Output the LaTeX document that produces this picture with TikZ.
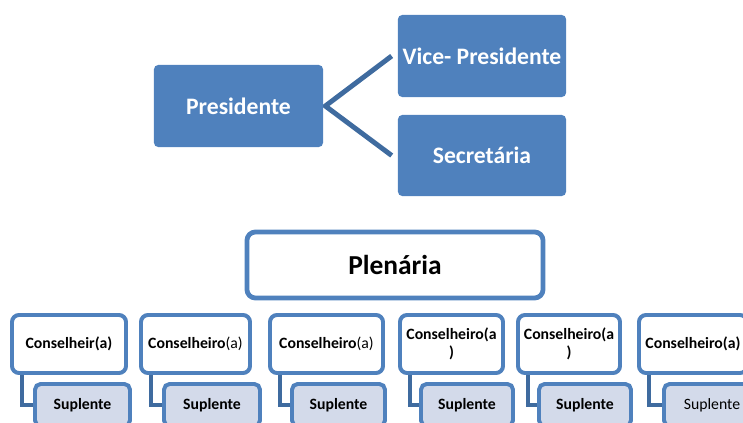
\documentclass[tikz,border=0pt]{standalone}
\usepackage{fontspec}
\setmainfont{Carlito}
\usepackage{xcolor}
\usepackage{tikz}
\usetikzlibrary{positioning,calc,backgrounds}
\definecolor{boxblue}{HTML}{4F81BD}
\definecolor{linkblue}{HTML}{3F6B9F}
\definecolor{subfill}{HTML}{D3DAEA}
\tikzstyle{topbox} = [rectangle, rounded corners=3pt, fill=boxblue, text=white, text centered, font=\fontsize{16.8}{20}\selectfont\bfseries]
\tikzstyle{plenbox} = [rectangle, rounded corners=6pt, draw=boxblue, line width=3.4pt, fill=white, text centered, font=\fontsize{19.5}{22}\selectfont\bfseries]
\tikzstyle{cons} = [rectangle, rounded corners=5pt, draw=boxblue, line width=2.8pt, fill=white, align=center, minimum height=1.45cm, font=\fontsize{11.2}{12.5}\selectfont\bfseries]
\tikzstyle{supl} = [rectangle, rounded corners=4pt, draw=boxblue, line width=2.8pt, fill=subfill, text centered, minimum height=1.05cm, font=\fontsize{11.2}{13}\selectfont\bfseries]
\tikzstyle{link} = [line width=3.5pt, draw=linkblue]

\begin{document}
\begin{tikzpicture}[x=0.025cm,y=-0.025cm]
			\clip (0,0) rectangle (743,422);
			% top
			\coordinate (P1) at (238.5,106);
			\coordinate (P2) at (482,56);
			\coordinate (P3) at (482,155.5);
			\coordinate (P4) at (395,265);
			% conselheiros
			\coordinate (C1) at (69,344);
			\coordinate (C2) at (195.5,344);
			\coordinate (C3) at (326.5,344);
			\coordinate (C4) at (451.5,344);
			\coordinate (C5) at (569,344);
			\coordinate (C6) at (693,344);
			% suplentes
			\coordinate (S1) at (82.5,405);
			\coordinate (S2) at (212,405);
			\coordinate (S3) at (338.5,405);
			\coordinate (S4) at (467,405);
			\coordinate (S5) at (585,405);
			\coordinate (S6) at (712,405);
			\begin{scope}[every node/.style={topbox}]
			\node[name=pres, minimum width=4.225cm, minimum height=2.05cm] at (P1) {Presidente};
			\node[name=vice, minimum width=4.2cm, minimum height=2.05cm] at (P2) {Vice- Presidente};
			\node[name=secr, minimum width=4.2cm, minimum height=2.025cm] at (P3) {Secretária};
			\end{scope}
			\node[plenbox, name=plen, minimum width=7.4cm, minimum height=1.65cm] at (P4) {Plenária};
			\begin{scope}[every node/.style={cons}]
			\node[name=c1, minimum width=2.85cm] at (C1) {Conselheir(a)};
			\node[name=c2, minimum width=2.725cm] at (C2) {Conselheiro\textmd{(a)}};
			\node[name=c3, minimum width=2.825cm] at (C3) {Conselheiro\textmd{(a)}};
			\node[name=c4, minimum width=2.575cm] at (C4) {Conselheiro(a\\)};
			\node[name=c5, minimum width=2.55cm] at (C5) {Conselheiro(a\\)};
			\node[name=c6, minimum width=2.7cm] at (C6) {Conselheiro(a)};
			\end{scope}
			\begin{scope}[every node/.style={supl}]
			\node[name=s1, minimum width=2.375cm] at (S1) {Suplente};
			\node[name=s2, minimum width=2.4cm] at (S2) {Suplente};
			\node[name=s3, minimum width=2.325cm] at (S3) {Suplente};
			\node[name=s4, minimum width=2.3cm] at (S4) {Suplente};
			\node[name=s5, minimum width=2.3cm] at (S5) {Suplente};
			\node[name=s6, minimum width=2.4cm, font=\fontsize{11.2}{13}\selectfont] at (S6) {Suplente};
			\end{scope}
			\begin{scope}[on background layer]
			\draw[link] ($(vice.west)+(-6,0)$) -- ($(pres.east)+(2,0)$) -- ($(secr.west)+(-6,0)$);
			\foreach \i in {1,...,6}
				\draw[link] ($(c\i.south west)+(12,0)$) |- (s\i.west);
			\end{scope}
			\end{tikzpicture}
\end{document}
